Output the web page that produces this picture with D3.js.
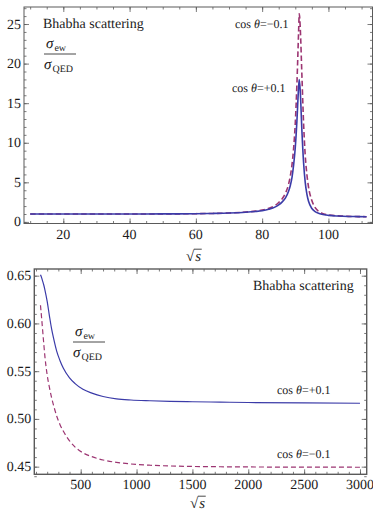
<!DOCTYPE html>
<html><head><meta charset="utf-8">
<script src="https://cdn.jsdelivr.net/npm/d3@7"></script>
</head><body style="margin:0"><script>
// upper panel, near the Z pole
const zS     = [10,20,30,40,50,60,65,70,75,78,80,82,84,85,86,87,88,88.5,89,89.5,90,90.5,91,91.2,91.5,92,92.5,93,93.5,94,95,96,97,98,100,103,106,109,111.5];
const zPlus  = [1.0,1.0,1.0,1.0,1.01,1.04,1.07,1.12,1.22,1.32,1.42,1.6,1.9,2.15,2.5,3.0,3.9,4.6,5.6,7.2,9.4,12.8,17,18,16.5,11.5,7.5,5.0,3.5,2.6,1.7,1.3,1.1,0.97,0.83,0.74,0.69,0.67,0.65];
const zMinus = [1.0,1.0,1.0,1.0,1.01,1.04,1.07,1.13,1.25,1.36,1.5,1.72,2.1,2.45,2.9,3.6,4.8,5.8,7.2,9.3,12.5,17.5,24,26.3,24.5,18.5,12.5,8.4,6.0,4.4,2.7,1.8,1.35,1.1,0.88,0.76,0.7,0.67,0.66];

// lower panel, high energies
const hiS     = [140,150,160,170,180,200,220,240,260,285,315,345,400,450,520,600,700,820,950,1120,1300,1500,1750,2000,2500,3000];
const hiPlus  = [0.651,0.648,0.644,0.640,0.635,0.623,0.608,0.594,0.583,0.571,0.561,0.553,0.543,0.537,0.531,0.527,0.5235,0.521,0.5198,0.519,0.5184,0.518,0.5176,0.5172,0.5167,0.5164];
const hiMinus = [0.619,0.606,0.592,0.578,0.565,0.546,0.533,0.522,0.513,0.503,0.494,0.487,0.477,0.4705,0.4645,0.4605,0.457,0.4545,0.4528,0.4515,0.4507,0.4502,0.4499,0.4497,0.4495,0.4494];

// ticks
const zXMajor = [20,40,60,80,100];
const zXMinor = d3.range(10,115,5);
const zYMajor = [0,5,10,15,20,25];
const zYMinor = d3.range(0,28,1);
const hiXMajor = [500,1000,1500,2000,2500,3000];
const hiXMinor = d3.range(100,3100,100);
const hiYMajor = [0.45,0.50,0.55,0.60,0.65];
const hiYMinor = d3.range(44,66).map(d => d/100);

const blue = "#3b3ba8", purple = "#9c3572", frameCol = "#5a5a5a";
const serif = "Liberation Serif";

const svg = d3.select("body").append("svg")
  .attr("width", 373).attr("height", 515)
  .attr("text-rendering", "geometricPrecision");

function txt(g, x, y, size) {
  return g.append("text").attr("x", x).attr("y", y)
    .attr("font-family", serif).attr("font-size", size).attr("fill", "#1a1a1a");
}

function panel(o) {
  const x = d3.scaleLinear().domain(o.xd).range([o.left, o.right]);
  const y = d3.scaleLinear().domain(o.yd).range([o.bottom, o.top]);
  const g = svg.append("g");

  const clipId = "clip" + o.id;
  g.append("clipPath").attr("id", clipId).append("rect")
    .attr("x", o.left).attr("y", o.top)
    .attr("width", o.right - o.left).attr("height", o.bottom - o.top);

  // inward ticks on all four sides (lines only, labels drawn below)
  function ticks(gen, vals, size, tx, ty) {
    const a = g.append("g").attr("transform", `translate(${tx},${ty})`)
      .call(gen.tickValues(vals).tickSize(-size).tickSizeOuter(0).tickFormat(() => ""));
    a.select(".domain").remove();
    a.selectAll("text").remove();
    a.selectAll("line").attr("stroke", frameCol).attr("stroke-width", 0.8);
  }
  ticks(d3.axisBottom(x), o.xMinor, 2.5, 0, o.bottom);
  ticks(d3.axisBottom(x), o.xMajor, 5, 0, o.bottom);
  ticks(d3.axisTop(x), o.xMinor, 2.5, 0, o.top);
  ticks(d3.axisTop(x), o.xMajor, 5, 0, o.top);
  ticks(d3.axisLeft(y), o.yMinor, 2.5, o.left, 0);
  ticks(d3.axisLeft(y), o.yMajor, 5, o.left, 0);
  ticks(d3.axisRight(y), o.yMinor, 2.5, o.right, 0);
  ticks(d3.axisRight(y), o.yMajor, 5, o.right, 0);

  o.xMajor.forEach(v => {
    txt(g, x(v), o.bottom + 15, o.fs).attr("text-anchor", "middle").text(o.xFmt(v));
  });
  o.yMajor.forEach(v => {
    txt(g, o.left - 3, y(v) + 4.5, o.fs).attr("text-anchor", "end").text(o.yFmt(v));
  });

  g.append("rect")
    .attr("x", o.left).attr("y", o.top)
    .attr("width", o.right - o.left).attr("height", o.bottom - o.top)
    .attr("fill", "none").attr("stroke", frameCol).attr("stroke-width", o.fw);

  const line = (ys) => d3.line().x((d, i) => x(o.s[i])).y(d => y(d)).curve(d3.curveMonotoneX)(ys);

  g.append("path").attr("d", line(o.minus)).attr("clip-path", `url(#${clipId})`)
    .attr("fill", "none").attr("stroke", purple).attr("stroke-width", o.lw)
    .attr("stroke-dasharray", o.dash);
  g.append("path").attr("d", line(o.plus)).attr("clip-path", `url(#${clipId})`)
    .attr("fill", "none").attr("stroke", blue).attr("stroke-width", o.lw);

  // x label: sqrt(s)
  const lab = txt(g, o.sqrtX, o.sqrtY, 15);
  lab.append("tspan").text("√");
  const sT = lab.append("tspan").attr("font-style", "italic").attr("dx", 1).text("s");
  const bb = lab.node().getBBox();
  const sw = sT.node().getComputedTextLength();
  g.append("line")
    .attr("x1", bb.x + bb.width - sw - 1.5).attr("x2", bb.x + bb.width + 0.5)
    .attr("y1", o.sqrtY - 11.8).attr("y2", o.sqrtY - 11.8)
    .attr("stroke", "#1a1a1a").attr("stroke-width", 0.8);

  // title
  txt(g, o.titleX, o.titleY, 14).text("Bhabha scattering");

  // ratio label
  const fx = o.fracX, fy = o.fracY;
  const num = txt(g, fx + 1, fy - 6, 15);
  num.append("tspan").attr("font-style", "italic").text("σ");
  num.append("tspan").attr("font-size", 10).attr("dy", 3).attr("dx", 1).text("ew");
  const den = txt(g, fx - 1, fy + 15, 15);
  den.append("tspan").attr("font-style", "italic").text("σ");
  den.append("tspan").attr("font-size", 10).attr("dy", 3).attr("dx", 1).text("QED");
  g.append("line").attr("x1", fx - 1).attr("x2", fx + 31).attr("y1", fy).attr("y2", fy)
    .attr("stroke", "#1a1a1a").attr("stroke-width", 0.8);

  // curve labels
  o.cos.forEach(c => {
    const t = txt(g, c.x, c.y, 12);
    t.append("tspan").text("cos ");
    t.append("tspan").attr("font-style", "italic").text("θ");
    t.append("tspan").text(c.t);
  });
}

panel({
  id: 1, s: zS, plus: zPlus, minus: zMinus,
  left: 24, right: 372.5, top: 7, bottom: 223.5,
  xd: [8.14, 113.3], yd: [-0.2, 27.15],
  xMajor: zXMajor, xMinor: zXMinor, yMajor: zYMajor, yMinor: zYMinor,
  xFmt: d3.format("d"), yFmt: d3.format("d"),
  fs: 14, fw: 1, lw: 1.6, dash: "5.5,3",
  sqrtX: 186, sqrtY: 261,
  titleX: 43, titleY: 28,
  fracX: 45, fracY: 54,
  cos: [{x: 235, y: 28, t: "=−0.1"}, {x: 232, y: 91.5, t: "=+0.1"}]
});

panel({
  id: 2, s: hiS, plus: hiPlus, minus: hiMinus,
  left: 34.3, right: 366.7, top: 269, bottom: 474.3,
  xd: [84.7, 3060], yd: [0.442, 0.657],
  xMajor: hiXMajor, xMinor: hiXMinor, yMajor: hiYMajor, yMinor: hiYMinor,
  xFmt: d3.format("d"), yFmt: d3.format(".2f"),
  fs: 14, fw: 1.4, lw: 1.2, dash: "5,3",
  sqrtX: 190, sqrtY: 508,
  titleX: 253, titleY: 290,
  fracX: 74, fracY: 342,
  cos: [{x: 277, y: 394, t: "=+0.1"}, {x: 277, y: 458, t: "=−0.1"}]
});
</script></body></html>
